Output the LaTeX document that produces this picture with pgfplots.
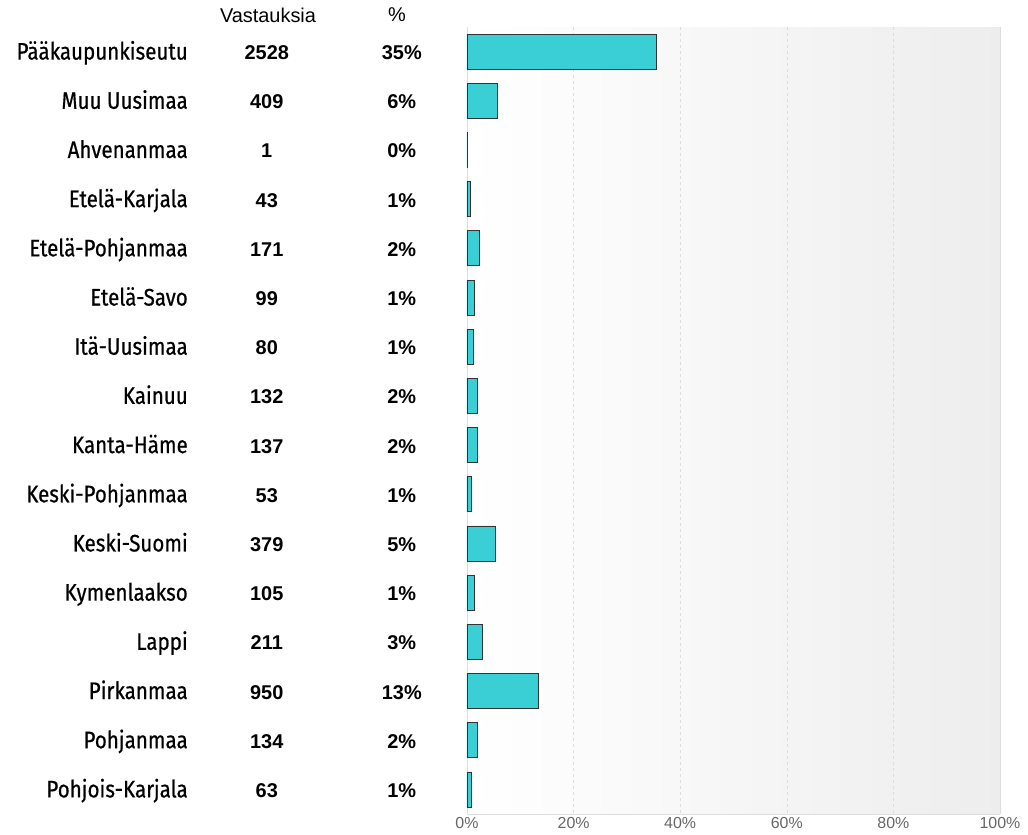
\documentclass[border=0pt]{standalone}
\usepackage{pgfplots}
\pgfplotsset{compat=1.18}
\usepackage{fontspec}
\setmainfont{Liberation Sans}
\newfontfamily\condfont{Fira Sans}[FakeStretch=0.86, FakeBold=0.6]
\definecolor{barfill}{RGB}{58,207,213}
\definecolor{bardraw}{RGB}{51,51,51}
\definecolor{gridc}{RGB}{221,221,221}
\definecolor{tickc}{RGB}{102,102,102}
\newcommand{\row}[3]{\makebox[176bp][r]{\fontsize{24}{24}\selectfont\condfont #1}\makebox[158bp][c]{\fontsize{20}{20}\selectfont\bfseries #2}\makebox[112bp][c]{\fontsize{20}{20}\selectfont\bfseries #3}}
\begin{document}
\begin{tikzpicture}
\begin{axis}[
  name=ax, scale only axis, width=533bp, height=787bp,
  xmin=0, xmax=100, ymin=-0.5, ymax=15.5, y dir=reverse,
  axis background/.style={left color=white, right color=black!7},
  xtick={0,20,...,100},
  xticklabel={\pgfmathprintnumber{\tick}\%},
  /pgf/number format/assume math mode=true,
  xticklabel style={tickc, font=\fontsize{16}{16}\selectfont},
  ytick={0,...,15},
  yticklabels={
    {\row{Pääkaupunkiseutu}{2528}{35\%}},
    {\row{Muu Uusimaa}{409}{6\%}},
    {\row{Ahvenanmaa}{1}{0\%}},
    {\row{Etelä-Karjala}{43}{1\%}},
    {\row{Etelä-Pohjanmaa}{171}{2\%}},
    {\row{Etelä-Savo}{99}{1\%}},
    {\row{Itä-Uusimaa}{80}{1\%}},
    {\row{Kainuu}{132}{2\%}},
    {\row{Kanta-Häme}{137}{2\%}},
    {\row{Keski-Pohjanmaa}{53}{1\%}},
    {\row{Keski-Suomi}{379}{5\%}},
    {\row{Kymenlaakso}{105}{1\%}},
    {\row{Lappi}{211}{3\%}},
    {\row{Pirkanmaa}{950}{13\%}},
    {\row{Pohjanmaa}{134}{2\%}},
    {\row{Pohjois-Karjala}{63}{1\%}}
  },
  yticklabel style={anchor=base east, inner sep=0pt, xshift=-9bp, yshift=-8bp},
  major tick length=0pt,
  xmajorgrids, major grid style={gridc, dashed},
  axis x line*=bottom, axis y line*=left,
  axis line style={gridc, line width=0.8bp},
  extra x ticks={100}, extra x tick labels={},
  extra x tick style={grid=major, major grid style={gridc, solid, line width=0.8bp}},
]
\addplot[xbar, bar width=35bp, fill=barfill, draw=bardraw, line width=0.8bp] coordinates {
  (35.6,0) (5.76,1) (0.014,2) (0.61,3) (2.41,4) (1.39,5) (1.13,6) (1.86,7)
  (1.93,8) (0.75,9) (5.34,10) (1.48,11) (2.97,12) (13.38,13) (1.89,14) (0.89,15)
};
\end{axis}
\node[font=\fontsize{20}{20}\selectfont] at ([shift={(-199bp,12bp)}]ax.north west) {Vastauksia};
\node[font=\fontsize{20}{20}\selectfont] at ([shift={(-70bp,12bp)}]ax.north west) {\%};
\path ([shift={(-467bp,-21bp)}]ax.south west) rectangle ([shift={(28bp,27bp)}]ax.north east);
\end{tikzpicture}
\end{document}
